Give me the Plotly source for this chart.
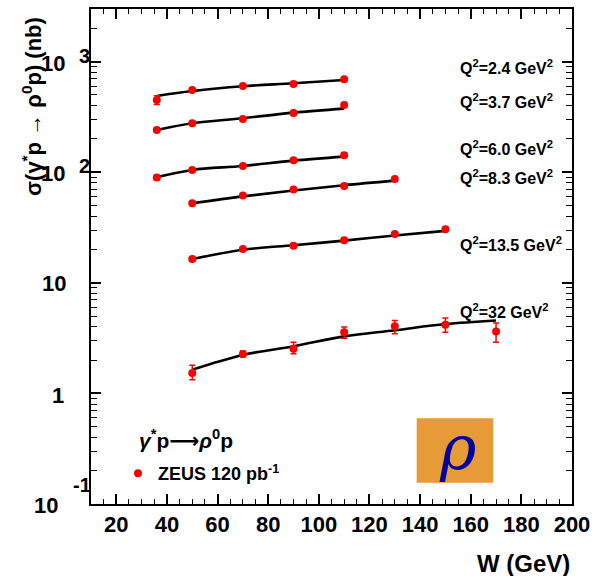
import plotly.graph_objects as go

# ---------------- data ----------------
W_24 = [36, 50, 70, 90, 110]
sig_24 = [451, 555, 603, 629, 693]
err_24 = [40, 18, 18, 20, 30]
fit_24 = [490, 543, 600, 638, 683]

W_37 = [36, 50, 70, 90, 110]
sig_37 = [241, 277.5, 303.5, 344, 406]
err_37 = [10, 10, 11, 12, 16]
fit_37 = [241, 277.5, 308, 346, 376]

W_60 = [36, 50, 70, 90, 110]
sig_60 = [89.5, 105, 114, 128.5, 142.6]
err_60 = [4, 4, 4, 5, 6]
fit_60 = [90.3, 105, 114, 127.4, 138.5]

W_83 = [50, 70, 90, 110, 130]
sig_83 = [52.5, 61.5, 69.7, 75.3, 87.1]
err_83 = [2, 2, 2.5, 3, 3.5]
fit_83 = [52.5, 60.5, 68.5, 76.4, 84.0]

W_135 = [50, 70, 90, 110, 130, 150]
sig_135 = [16.4, 20.2, 21.7, 24.3, 27.7, 30.6]
err_135 = [0.6, 0.7, 0.8, 0.9, 1.0, 1.3]
fit_135 = [16.4, 19.9, 21.9, 24.1, 26.8, 29.5]

W_32 = [50, 70, 90, 110, 130, 150, 170]
sig_32 = [1.53, 2.27, 2.54, 3.57, 4.04, 4.18, 3.64]
errp_32 = [0.27, 0.15, 0.36, 0.42, 0.53, 0.63, 0.69]
errm_32 = [0.20, 0.14, 0.25, 0.42, 0.57, 0.61, 0.74]
fit_32 = [1.64, 2.23, 2.67, 3.28, 3.72, 4.24, 4.57]

q2_labels = ["Q<sup>2</sup>=2.4 GeV<sup>2</sup>", "Q<sup>2</sup>=3.7 GeV<sup>2</sup>",
             "Q<sup>2</sup>=6.0 GeV<sup>2</sup>", "Q<sup>2</sup>=8.3 GeV<sup>2</sup>",
             "Q<sup>2</sup>=13.5 GeV<sup>2</sup>", "Q<sup>2</sup>=32 GeV<sup>2</sup>"]
q2_label_ypx = [66.7, 101, 148.3, 177.3, 244, 310.7]

x_ticks = [20, 40, 60, 80, 100, 120, 140, 160, 180, 200]
y_decades = [3, 2, 1, 0, -1]
y_tick_main = ["10", "10", "10", "1", "10"]
y_tick_exp = ["3", "2", "", "", "-1"]

X_RANGE = [10, 200]
Y_RANGE_LOG = [-1, 3.4765]

# ---------------- layout geometry ----------------
WIDTH, HEIGHT = 595, 576
L, R, T, B = 91, 23, 9, 72
PW = WIDTH - L - R
PH = HEIGHT - T - B


def px_x(px):
    return (px - L) / PW


def px_y(py):
    return (HEIGHT - B - py) / PH


FONT = "Liberation Sans"
RED = "#ff0000"

fig = go.Figure()

series = [
    (W_24, sig_24, err_24, err_24, fit_24),
    (W_37, sig_37, err_37, err_37, fit_37),
    (W_60, sig_60, err_60, err_60, fit_60),
    (W_83, sig_83, err_83, err_83, fit_83),
    (W_135, sig_135, err_135, err_135, fit_135),
    (W_32, sig_32, errp_32, errm_32, fit_32),
]

for (w, s, ep, em, f) in series:
    fig.add_trace(go.Scatter(x=w, y=f, mode="lines", line=dict(color="black", width=2.6, shape="spline"),
                             showlegend=False, hoverinfo="skip"))

for i, (w, s, ep, em, f) in enumerate(series):
    fig.add_trace(go.Scatter(
        x=w, y=s, mode="markers",
        marker=dict(color=RED, size=8, line=dict(width=0)),
        error_y=dict(type="data", array=ep, arrayminus=em, color=RED, thickness=1.5, width=3),
        name="ZEUS 120 pb<sup>-1</sup>", showlegend=(i == 0)))

fig.update_layout(
    template="simple_white",
    xaxis=dict(range=X_RANGE, tickmode="array", tickvals=x_ticks, ticks="inside", ticklen=10, tickwidth=1.5,
               tickcolor="black", showline=True, linecolor="black", linewidth=1.5, mirror="ticks",
               showgrid=False, zeroline=False,
               tickfont=dict(family=FONT, size=22, color="black", weight="bold"),
               minor=dict(ticks="inside", ticklen=5, tickwidth=1.2, tickcolor="black", dtick=5, tick0=0)),
    yaxis=dict(type="log", range=Y_RANGE_LOG, dtick=1, ticks="inside", ticklen=10, tickwidth=1.5,
               tickcolor="black", showline=True, linecolor="black", linewidth=1.5, mirror="ticks",
               showgrid=False, zeroline=False, showticklabels=False,
               minor=dict(ticks="inside", ticklen=6, tickwidth=1.2, tickcolor="black")),
)

ann = []
# y tick labels
main_right_px = [67, 67, 68, 66, 60]
main_shift = [-1.5, -1.5, -1, -2, -1.5]
exp_left_px = 77
for d, m, e, rx, sh in zip(y_decades, y_tick_main, y_tick_exp, main_right_px, main_shift):
    ann.append(dict(x=px_x(rx), xref="paper", y=d, yref="y", text=m, showarrow=False,
                    xanchor="right", yanchor="middle", yshift=sh,
                    font=dict(family=FONT, size=22, color="black", weight="bold")))
    if e:
        ex = exp_left_px if e != "-1" else 71
        ys = 6 if e != "-1" else 19
        ann.append(dict(x=px_x(ex), xref="paper", y=d, yref="y", text=e, showarrow=False,
                        xanchor="left", yanchor="middle", yshift=ys,
                        font=dict(family=FONT, size=20, color="black", weight="bold")))

# Q2 labels
for t, py in zip(q2_labels, q2_label_ypx):
    ann.append(dict(x=px_x(458), xref="paper", y=px_y(py), yref="paper", text=t, showarrow=False,
                    xanchor="left", yanchor="middle",
                    font=dict(family=FONT, size=16, color="black", weight="bold")))

# axis titles
ann.append(dict(x=px_x(31.5), xref="paper", y=px_y(106.5), yref="paper",
                text="σ(γ<sup>*</sup>p → ρ<sup>0</sup>p) (nb)", textangle=-90, showarrow=False,
                xanchor="center", yanchor="middle",
                font=dict(family=FONT, size=22, color="black", weight="bold")))
ann.append(dict(x=px_x(572), xref="paper", y=px_y(563), yref="paper", text="W (GeV)", showarrow=False,
                xanchor="right", yanchor="middle",
                font=dict(family=FONT, size=24, color="black", weight="bold")))

# process label
ann.append(dict(x=px_x(137), xref="paper", y=px_y(439), yref="paper",
                text="<i>γ</i><sup>*</sup>p<span style=\"font-family:'DejaVu Sans'\">⟶</span><i>ρ</i><sup>0</sup>p",
                showarrow=False, xanchor="left", yanchor="middle",
                font=dict(family=FONT, size=21, color="black", weight="bold")))

# rho badge
ann.append(dict(x=px_x(457), xref="paper", y=px_y(447), yref="paper", text="<i>ρ</i>", showarrow=False,
                xanchor="center", yanchor="middle",
                font=dict(family="DejaVu Serif", size=62, color="#0000a0")))

shapes = [dict(type="rect", xref="paper", yref="paper", x0=px_x(416.7), x1=px_x(493.3),
               y0=px_y(482.7), y1=px_y(418.3), fillcolor="#e69a38", opacity=1,
               line=dict(width=0), layer="below")]

fig.update_layout(
    width=WIDTH, height=HEIGHT, margin=dict(l=L, r=R, t=T, b=B, autoexpand=False),
    paper_bgcolor="white", plot_bgcolor="white",
    annotations=ann, shapes=shapes,
    legend=dict(x=px_x(118), y=px_y(455), xanchor="left", yanchor="top", bgcolor="rgba(0,0,0,0)",
                font=dict(family=FONT, size=18, color="black", weight="bold"), itemwidth=30),
)

fig.write_html("out.html")
